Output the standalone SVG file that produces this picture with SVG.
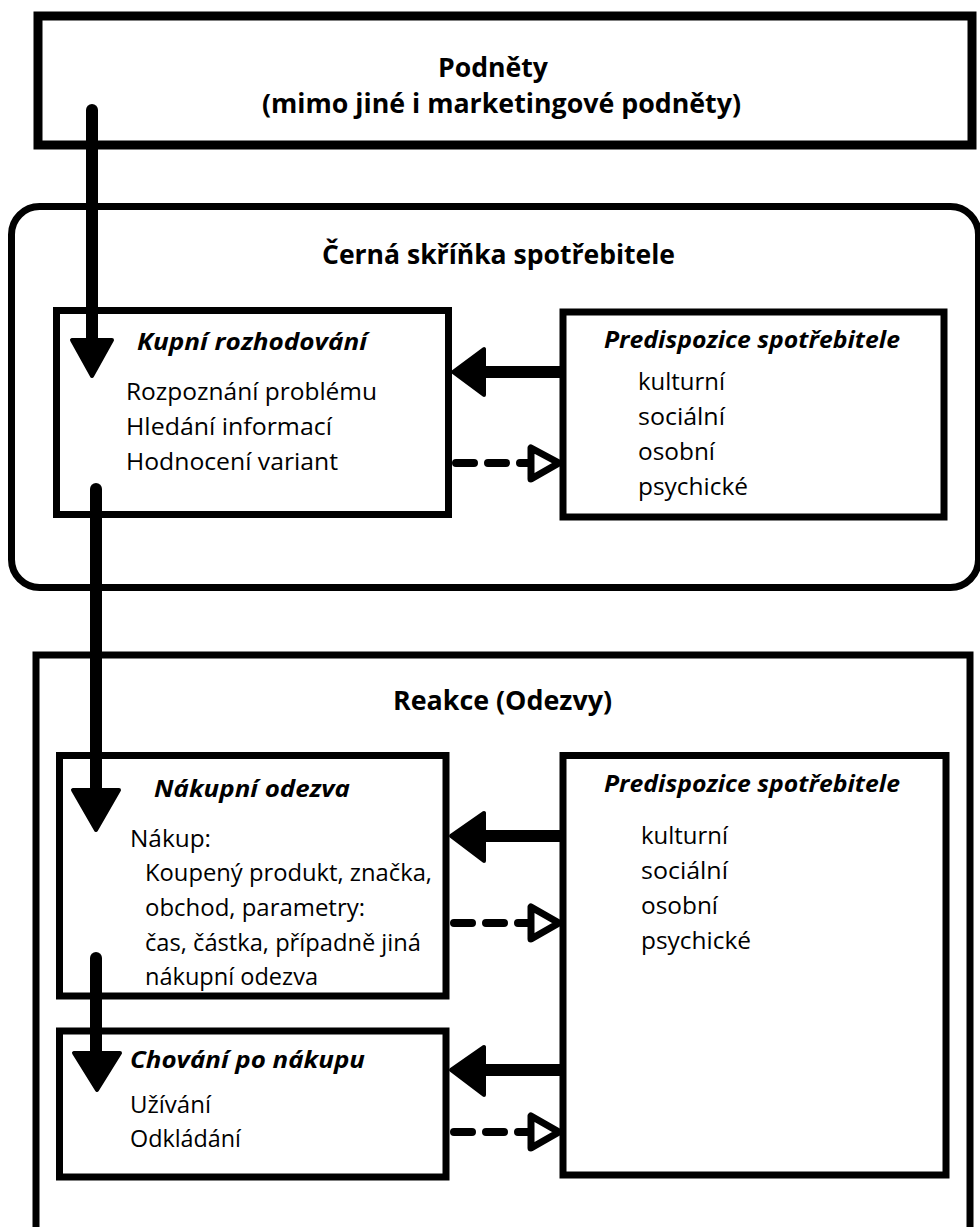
<svg xmlns="http://www.w3.org/2000/svg" width="980" height="1227" viewBox="0 0 980 1227">
  <defs>
    <style>
      .box { fill: #ffffff; stroke: #000000; stroke-width: 7; }
      .frame { fill: none; stroke: #000000; stroke-width: 7; }
      .t { font-family: "Open Sans", "Liberation Sans", sans-serif; fill: #000000; }
      .title { font-size: 26px; font-weight: bold; }
      .head { font-size: 23px; font-weight: bold; font-style: italic; }
      .item { font-size: 23.5px; }
      .shaft { stroke: #000000; stroke-width: 12; stroke-linecap: round; fill: none; }
      .hshaft { stroke: #000000; stroke-width: 12; fill: none; }
      .tip { fill: #000000; stroke: #000000; stroke-width: 4; stroke-linejoin: round; }
      .dash { stroke: #000000; stroke-width: 8; stroke-linecap: round; stroke-dasharray: 18 14; fill: none; }
      .open { fill: #ffffff; stroke: #000000; stroke-width: 7; stroke-linejoin: round; }
    </style>
  </defs>

  <rect width="980" height="1227" fill="#ffffff"/>

  <!-- Stimuli -->
  <g id="podnety">
    <rect class="box" x="38" y="16" width="934" height="129" style="stroke-width:9"/>
    <text class="t title" x="438" y="77" textLength="110" lengthAdjust="spacingAndGlyphs">Podněty</text>
    <text class="t title" x="262" y="113" textLength="479" lengthAdjust="spacingAndGlyphs">(mimo jiné i marketingové podněty)</text>
  </g>

  <!-- Consumer black box -->
  <g id="cerna-skrinka">
    <rect class="frame" x="11.5" y="206.5" width="967" height="381" rx="28" ry="28"/>
    <text class="t title" x="322" y="264" textLength="353" lengthAdjust="spacingAndGlyphs">Černá skříňka spotřebitele</text>
  </g>

  <g id="kupni-rozhodovani">
    <rect class="box" x="56.5" y="310.5" width="392" height="204"/>
    <text class="t head" x="137" y="350" textLength="230" lengthAdjust="spacingAndGlyphs">Kupní rozhodování</text>
    <text class="t item" x="126" y="400" textLength="251" lengthAdjust="spacingAndGlyphs">Rozpoznání problému</text>
    <text class="t item" x="126" y="435" textLength="206" lengthAdjust="spacingAndGlyphs">Hledání informací</text>
    <text class="t item" x="126" y="470" textLength="212" lengthAdjust="spacingAndGlyphs">Hodnocení variant</text>
  </g>

  <g id="predispozice-1">
    <rect class="box" x="563" y="312" width="381" height="205"/>
    <text class="t head" x="604" y="348" textLength="296" lengthAdjust="spacingAndGlyphs">Predispozice spotřebitele</text>
    <text class="t item" x="638" y="390" textLength="87" lengthAdjust="spacingAndGlyphs">kulturní</text>
    <text class="t item" x="638" y="425" textLength="87" lengthAdjust="spacingAndGlyphs">sociální</text>
    <text class="t item" x="638" y="460" textLength="77" lengthAdjust="spacingAndGlyphs">osobní</text>
    <text class="t item" x="638" y="495" textLength="110" lengthAdjust="spacingAndGlyphs">psychické</text>
  </g>

  <!-- Responses -->
  <g id="reakce">
    <path class="frame" d="M36 1240 V655 H970 V1240"/>
    <text class="t title" x="393" y="710" textLength="219" lengthAdjust="spacingAndGlyphs">Reakce (Odezvy)</text>
  </g>

  <g id="nakupni-odezva">
    <rect class="box" x="59.5" y="755.5" width="386.5" height="240.5"/>
    <text class="t head" x="154" y="797" textLength="196" lengthAdjust="spacingAndGlyphs">Nákupní odezva</text>
    <text class="t item" x="130" y="847" textLength="81" lengthAdjust="spacingAndGlyphs">Nákup:</text>
    <text class="t item" x="145" y="881" textLength="287" lengthAdjust="spacingAndGlyphs">Koupený produkt, značka,</text>
    <text class="t item" x="145" y="916" textLength="220" lengthAdjust="spacingAndGlyphs">obchod, parametry:</text>
    <text class="t item" x="145" y="951" textLength="276" lengthAdjust="spacingAndGlyphs">čas, částka, případně jiná</text>
    <text class="t item" x="145" y="985" textLength="173" lengthAdjust="spacingAndGlyphs">nákupní odezva</text>
  </g>

  <g id="chovani-po-nakupu">
    <rect class="box" x="59.5" y="1031" width="386.5" height="146"/>
    <text class="t head" x="130" y="1068" textLength="235" lengthAdjust="spacingAndGlyphs">Chování po nákupu</text>
    <text class="t item" x="130" y="1113" textLength="81" lengthAdjust="spacingAndGlyphs">Užívání</text>
    <text class="t item" x="130" y="1147" textLength="111" lengthAdjust="spacingAndGlyphs">Odkládání</text>
  </g>

  <g id="predispozice-2">
    <rect class="box" x="563" y="755.5" width="383" height="419.5"/>
    <text class="t head" x="604" y="792" textLength="296" lengthAdjust="spacingAndGlyphs">Predispozice spotřebitele</text>
    <text class="t item" x="641" y="844" textLength="87" lengthAdjust="spacingAndGlyphs">kulturní</text>
    <text class="t item" x="641" y="879" textLength="87" lengthAdjust="spacingAndGlyphs">sociální</text>
    <text class="t item" x="641" y="914" textLength="77" lengthAdjust="spacingAndGlyphs">osobní</text>
    <text class="t item" x="641" y="949" textLength="110" lengthAdjust="spacingAndGlyphs">psychické</text>
  </g>

  <!-- Connectors -->
  <g id="connectors">
    <!-- main downward flow -->
    <line class="shaft" x1="92" y1="110" x2="92" y2="345"/>
    <polygon class="tip" points="72,340 112,340 92,376"/>
    <line class="shaft" x1="96" y1="489" x2="96" y2="795"/>
    <polygon class="tip" points="73,790 119,790 96,830"/>
    <line class="shaft" x1="96" y1="958" x2="96" y2="1058"/>
    <polygon class="tip" points="74,1053 120,1053 97,1090"/>

    <!-- influence of predispositions -->
    <line class="hshaft" x1="563" y1="372" x2="480" y2="372"/>
    <polygon class="tip" points="484,349 484,395 453,372"/>
    <line class="hshaft" x1="563" y1="836" x2="480" y2="836"/>
    <polygon class="tip" points="484,813 484,861 451,836"/>
    <line class="hshaft" x1="563" y1="1070" x2="480" y2="1070"/>
    <polygon class="tip" points="484,1047 484,1095 451,1070"/>

    <!-- feedback -->
    <line class="dash" x1="456" y1="463" x2="530" y2="463"/>
    <polygon class="open" points="531,448 531,479 559,463"/>
    <line class="dash" x1="454" y1="923" x2="530" y2="923"/>
    <polygon class="open" points="531,907 531,939 559,923"/>
    <line class="dash" x1="454" y1="1132" x2="530" y2="1132"/>
    <polygon class="open" points="531,1116 531,1148 559,1132"/>
  </g>
</svg>
